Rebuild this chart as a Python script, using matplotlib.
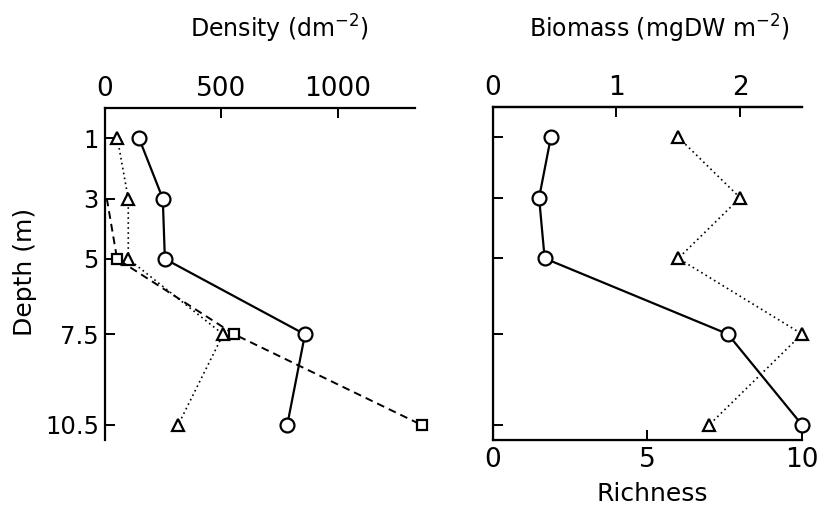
import numpy as np
import matplotlib.pyplot as plt

plt.rcParams['font.family'] = ['DejaVu Sans']
plt.rcParams['mathtext.fontset'] = 'dejavusans'

# depth of each sample (m)
depth = [1, 3, 5, 7.5, 10.5]

# left panel - density (dm-2)
dens_circle = [148, 250, 259, 860, 784]
dens_triangle = [55, 102, 102, 509, 316]
depth_square = [3, 5, 7.5, 10.5]
dens_square = [10, 54, 557, 1360]

# right panel
biomass = [0.47, 0.375, 0.42, 1.90, 2.50]   # mgDW m-2, top axis
richness = [6, 8, 6, 10, 7]                 # bottom axis

W, H = 822, 508
fig = plt.figure(figsize=(W / 100, H / 100), dpi=100)

def box(x0, y0, x1, y1):
    # pixel box -> figure fraction
    return [x0 / W, 1 - y1 / H, (x1 - x0) / W, (y1 - y0) / H]

lw = 1.6
mk = dict(markerfacecolor='white', markeredgecolor='black', markeredgewidth=1.6)

# ---- left panel
ax1 = fig.add_axes(box(104.5, 108, 415, 440))
ax1.plot(dens_circle, depth, '-', color='black', lw=lw, marker='o', ms=10,
         clip_on=False, zorder=4, **mk)
ax1.plot(dens_triangle, depth, color='black', lw=1.2, ls=(0, (1, 2)),
         marker='^', ms=8.5, clip_on=False, zorder=3, **mk)
ax1.plot(dens_square, depth_square, color='black', lw=1.4, ls=(0, (4, 2.6)),
         marker='s', ms=6.5, markevery=[1, 2, 3], clip_on=False, zorder=3, **mk)
ax1.set_xlim(0, 1332)
ax1.set_ylim(11, 0)
ax1.xaxis.tick_top()
ax1.set_xticks([0, 500, 1000])
ax1.set_yticks(depth)
ax1.set_yticklabels(['1', '3', '5', '7.5', '10.5'])
ax1.spines['right'].set_visible(False)
ax1.spines['bottom'].set_visible(False)
for s in ['left', 'top']:
    ax1.spines[s].set_linewidth(lw)
ax1.tick_params(axis='both', direction='in', length=7, width=1.4, pad=4)
ax1.tick_params(axis='x', labelsize=19)
ax1.tick_params(axis='y', labelsize=17.5)

# ---- right panel
ax2 = fig.add_axes(box(492.7, 107, 802, 440))
ax2.plot(richness, depth, color='black', lw=1.2, ls=(0, (1, 2)),
         marker='^', ms=8.5, clip_on=False, zorder=3, **mk)
ax2.set_xlim(0, 10)
ax2.set_ylim(11, 0)
ax2.set_xticks([0, 5, 10])
ax2.set_yticks(depth)
ax2.set_yticklabels([])
ax2.spines['right'].set_visible(False)
for s in ['left', 'top', 'bottom']:
    ax2.spines[s].set_linewidth(lw)
ax2.tick_params(axis='both', direction='in', length=7, width=1.4, labelsize=19, pad=5)

ax3 = ax2.twiny()
ax3.plot(biomass, depth, '-', color='black', lw=lw, marker='o', ms=10,
         clip_on=False, zorder=4, **mk)
ax3.set_xlim(0, 2.5)
ax3.set_xticks([0, 1, 2])
ax3.spines['right'].set_visible(False)
ax3.spines['top'].set_linewidth(lw)
ax3.tick_params(axis='x', direction='in', length=7, width=1.4, labelsize=19, pad=4)

# ---- labels
fig.text(279 / W, 1 - 38 / H, 'Density (dm$^{-2}$)', ha='center', va='baseline', fontsize=17)
fig.text(659 / W, 1 - 38 / H, 'Biomass (mgDW m$^{-2}$)', ha='center', va='baseline', fontsize=17)
fig.text(652 / W, 1 - 494 / H, 'Richness', ha='center', va='center', fontsize=18)
fig.text(25 / W, 1 - 272 / H, 'Depth (m)', ha='center', va='center', rotation=90, fontsize=18)

fig.savefig('out.png', dpi=100)
